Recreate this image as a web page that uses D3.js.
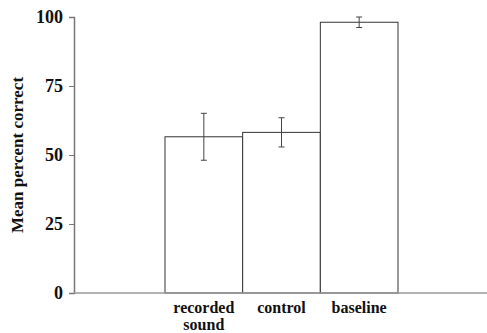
<!DOCTYPE html>
<html>
<head>
<meta charset="utf-8">
<script src="https://cdn.jsdelivr.net/npm/d3@7"></script>
<style>
  body { margin: 0; background: #fff; }
  text { font-family: "Liberation Serif", "DejaVu Serif", serif; font-weight: bold; fill: #111; }
</style>
</head>
<body>
<div id="chart"></div>
<script>
// chart data
var categories = ["recorded sound", "control", "baseline"];
var means = [56.6, 58.2, 98.1];
var errors = [8.5, 5.3, 1.9];
var yTicks = [0, 25, 50, 75, 100];

var width = 487, height = 333;
var margin = { top: 17, bottom: 40, left: 74 };

var svg = d3.select("#chart").append("svg")
	.attr("width", width)
	.attr("height", height);

var y = d3.scaleLinear()
	.domain([0, 100])
	.range([height - margin.bottom, margin.top]);

// bars sit side by side, no gap
var x = d3.scaleBand()
	.domain(categories)
	.range([165, 398])
	.padding(0);

// bars
svg.selectAll("rect.bar")
	.data(categories)
	.enter().append("rect")
	.attr("class", "bar")
	.attr("x", function(d) { return x(d); })
	.attr("y", function(d, i) { return y(means[i]); })
	.attr("width", x.bandwidth())
	.attr("height", function(d, i) { return y(0) - y(means[i]); })
	.style("fill", "#fff")
	.style("stroke", "#333")
	.style("stroke-width", 1);

// error bars
var err = svg.selectAll("g.err")
	.data(categories)
	.enter().append("g")
	.attr("class", "err")
	.attr("transform", function(d) { return "translate(" + (x(d) + x.bandwidth() / 2) + ",0)"; })
	.style("stroke", "#444")
	.style("stroke-width", 1);

err.append("line")
	.attr("y1", function(d, i) { return y(means[i] + errors[i]); })
	.attr("y2", function(d, i) { return y(means[i] - errors[i]); });
err.append("line")
	.attr("x1", -3).attr("x2", 3)
	.attr("y1", function(d, i) { return y(means[i] + errors[i]); })
	.attr("y2", function(d, i) { return y(means[i] + errors[i]); });
err.append("line")
	.attr("x1", -3).attr("x2", 3)
	.attr("y1", function(d, i) { return y(means[i] - errors[i]); })
	.attr("y2", function(d, i) { return y(means[i] - errors[i]); });

// y axis
var yAxis = svg.append("g")
	.attr("transform", "translate(" + margin.left + ",0)")
	.call(d3.axisLeft(y).tickValues(yTicks).tickSize(5).tickPadding(6));
yAxis.attr("font-family", null);
yAxis.select(".domain").style("stroke", "#777").style("stroke-width", 1.5);
yAxis.selectAll(".tick line").style("stroke", "#777");
yAxis.selectAll(".tick text")
	.style("font-family", "'Liberation Serif', serif")
	.style("font-weight", "bold")
	.style("font-size", "18px")
	.style("fill", "#111");

// x baseline across full width
svg.append("line")
	.attr("x1", margin.left)
	.attr("x2", width)
	.attr("y1", y(0))
	.attr("y2", y(0))
	.style("stroke", "#999")
	.style("stroke-width", 1.5);

// category labels
var labels = svg.selectAll("text.cat")
	.data(categories)
	.enter().append("text")
	.attr("class", "cat")
	.attr("text-anchor", "middle")
	.attr("x", function(d) { return x(d) + x.bandwidth() / 2; })
	.attr("y", y(0) + 20)
	.style("font-size", "16px");
labels.each(function(d) {
	var words = d.split(" ");
	var t = d3.select(this);
	words.forEach(function(w, j) {
		t.append("tspan")
			.attr("x", t.attr("x"))
			.attr("dy", j === 0 ? 0 : 17)
			.text(w);
	});
});

// y label
svg.append("text")
	.attr("transform", "translate(23," + y(50) + ") rotate(-90)")
	.attr("text-anchor", "middle")
	.style("font-size", "17px")
	.text("Mean percent correct");
</script>
</body>
</html>
